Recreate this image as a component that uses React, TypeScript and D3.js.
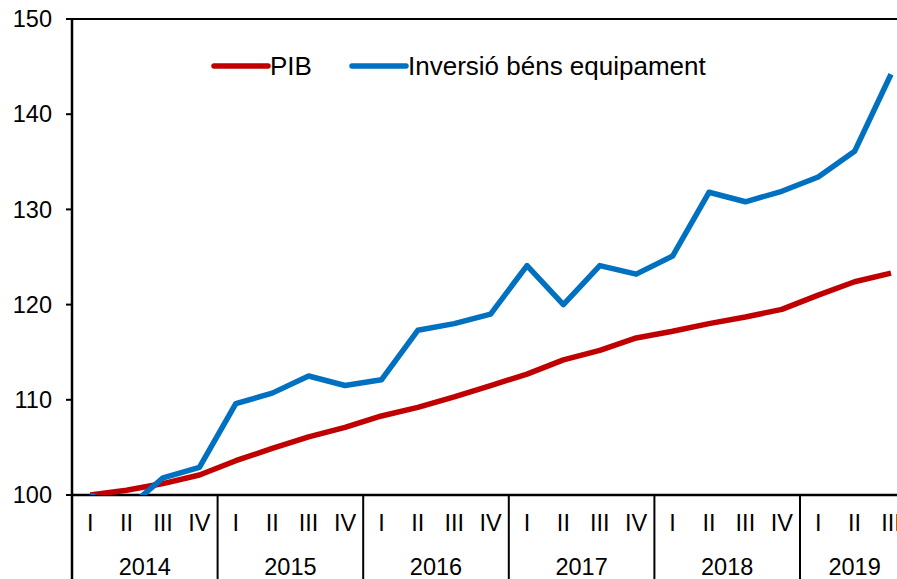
import React, { useEffect, useRef } from 'react';
import * as d3 from 'd3';

const YEARS = ['2014', '2015', '2016', '2017', '2018', '2019'];
const QUARTERS = ['I', 'II', 'III', 'IV'];
const PERIODS = YEARS.flatMap((y) => QUARTERS.map((q) => `${y}-${q}`)).slice(0, 23);
const PIB = [100, 100.5, 101.2, 102.1, 103.6, 104.9, 106.1, 107.1, 108.3, 109.2, 110.3, 111.5,
  112.7, 114.2, 115.2, 116.5, 117.2, 118.0, 118.7, 119.5, 121.0, 122.4, 123.3];
const INVERSIO = [100, 98.5, 101.8, 102.9, 109.6, 110.7, 112.5, 111.5, 112.1, 117.3, 118.0, 119.0,
  124.1, 120.0, 124.1, 123.2, 125.1, 131.8, 130.8, 131.9, 133.4, 136.1, 144.2];
const Y_TICKS = [100, 110, 120, 130, 140, 150];

const W = 897;
const H = 579;
const FONT = '"Liberation Sans", Arial, sans-serif';
const AXIS_FS = 23.5;

export default function App() {
  const ref = useRef<SVGSVGElement>(null);

  useEffect(() => {
    document.body.style.margin = '0';
    const svg = d3.select(ref.current);
    svg.selectAll('*').remove();

    const left = 72, top = 19, bottom = 495;
    const x = d3.scaleBand().domain(PERIODS).range([left, left + 36.4 * 23]);
    const y = d3.scaleLinear().domain([100, 150]).range([bottom, top]);
    const cx = (p: string) => (x(p) as number) + x.bandwidth() / 2;

    svg.append('defs').append('clipPath').attr('id', 'plot')
      .append('rect').attr('x', left).attr('y', top - 10).attr('width', W - left).attr('height', bottom - top + 10);

    // y ticks + labels
    Y_TICKS.forEach((t) => {
      svg.append('line').attr('x1', left - 6).attr('x2', left).attr('y1', y(t)).attr('y2', y(t))
        .attr('stroke', '#000').attr('stroke-width', 2);
      svg.append('text').attr('x', 52).attr('y', y(t)).attr('dy', '0.35em')
        .attr('text-anchor', 'end').attr('font-family', FONT).attr('font-size', AXIS_FS)
        .text(t);
    });

    // frame
    svg.append('line').attr('x1', left).attr('x2', W).attr('y1', top).attr('y2', top)
      .attr('stroke', '#000').attr('stroke-width', 2);
    svg.append('line').attr('x1', left).attr('x2', left).attr('y1', top).attr('y2', H)
      .attr('stroke', '#000').attr('stroke-width', 2.5);
    svg.append('line').attr('x1', left).attr('x2', W).attr('y1', bottom).attr('y2', bottom)
      .attr('stroke', '#000').attr('stroke-width', 2.5);

    // year separators
    YEARS.slice(1).forEach((yr) => {
      const xs = x(`${yr}-I`) as number;
      svg.append('line').attr('x1', xs).attr('x2', xs).attr('y1', bottom).attr('y2', H)
        .attr('stroke', '#000').attr('stroke-width', 2);
    });

    // quarter labels
    PERIODS.forEach((p) => {
      svg.append('text').attr('x', cx(p)).attr('y', 523).attr('dy', '0.35em')
        .attr('text-anchor', 'middle').attr('font-family', FONT).attr('font-size', AXIS_FS)
        .text(p.split('-')[1]);
    });

    // year labels, centred on the quarters present
    YEARS.forEach((yr) => {
      const qs = PERIODS.filter((p) => p.startsWith(yr));
      const x0 = x(qs[0]) as number;
      const x1 = x0 + x.bandwidth() * qs.length;
      svg.append('text').attr('x', (x0 + x1) / 2).attr('y', 567).attr('dy', '0.35em')
        .attr('text-anchor', 'middle').attr('font-family', FONT).attr('font-size', AXIS_FS)
        .text(yr);
    });

    const line = d3.line<number>().x((_, i) => cx(PERIODS[i])).y((v) => y(v));
    const g = svg.append('g').attr('clip-path', 'url(#plot)');
    g.append('path').datum(PIB).attr('d', line).attr('fill', 'none')
      .attr('stroke', '#C00000').attr('stroke-width', 5.5).attr('stroke-linejoin', 'round');
    g.append('path').datum(INVERSIO).attr('d', line).attr('fill', 'none')
      .attr('stroke', '#0070C0').attr('stroke-width', 5.5).attr('stroke-linejoin', 'round');

    // legend
    const legend = [
      { name: 'PIB', color: '#C00000', x: 214 },
      { name: 'Inversió béns equipament', color: '#0070C0', x: 352 },
    ];
    legend.forEach((l) => {
      svg.append('line').attr('x1', l.x).attr('x2', l.x + 54).attr('y1', 66).attr('y2', 66)
        .attr('stroke', l.color).attr('stroke-width', 5.5).attr('stroke-linecap', 'round');
      svg.append('text').attr('x', l.x + 56).attr('y', 66).attr('dy', '0.35em')
        .attr('font-family', FONT).attr('font-size', 26).text(l.name);
    });
  }, []);

  return (
    <svg ref={ref} width={W} height={H} style={{ display: 'block', background: '#fff' }} />
  );
}
